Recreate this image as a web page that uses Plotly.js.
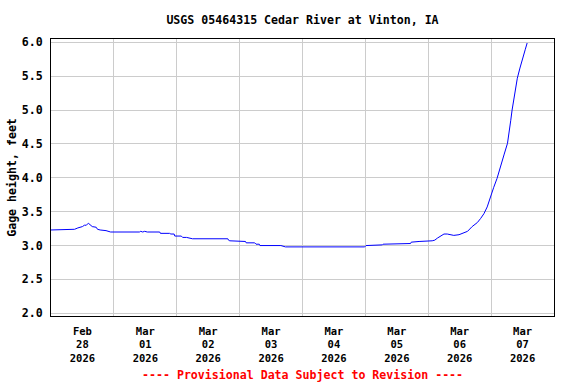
<!DOCTYPE html>
<html>
<head>
<meta charset="utf-8">
<script src="https://cdn.plot.ly/plotly-3.0.1.min.js"></script>
<style>html,body{margin:0;padding:0;background:#fff;}#chart{width:576px;height:384px;}</style>
</head>
<body>
<div id="chart"></div>
<script>
// Gage height readings (time, feet)
const times = [
  "2026-02-28 00:00","2026-02-28 06:30","2026-02-28 06:45","2026-02-28 09:00","2026-02-28 10:15",
  "2026-02-28 12:00","2026-02-28 12:45","2026-02-28 13:30","2026-02-28 14:15","2026-02-28 15:00",
  "2026-02-28 15:45","2026-02-28 17:15","2026-02-28 17:45","2026-02-28 18:45","2026-02-28 21:00",
  "2026-02-28 22:45","2026-03-01 05:15","2026-03-01 05:30","2026-03-01 05:45","2026-03-01 09:45",
  "2026-03-01 10:15","2026-03-01 11:00","2026-03-01 11:45","2026-03-01 12:45","2026-03-01 17:30",
  "2026-03-01 17:45","2026-03-01 21:15","2026-03-01 21:45","2026-03-01 23:00","2026-03-01 23:15",
  "2026-03-02 01:45","2026-03-02 02:15","2026-03-02 03:45","2026-03-02 06:00","2026-03-02 19:30",
  "2026-03-02 19:45","2026-03-02 20:15","2026-03-03 00:45","2026-03-03 01:00","2026-03-03 02:15",
  "2026-03-03 02:30","2026-03-03 05:45","2026-03-03 06:15","2026-03-03 07:30","2026-03-03 07:45",
  "2026-03-03 11:30","2026-03-03 12:30","2026-03-03 13:30","2026-03-03 14:45","2026-03-03 15:45",
  "2026-03-03 17:30","2026-03-04 01:00","2026-03-04 06:45","2026-03-04 07:30","2026-03-04 08:00",
  "2026-03-04 14:30","2026-03-04 14:45","2026-03-04 15:30","2026-03-04 17:30","2026-03-04 17:45",
  "2026-03-04 18:30","2026-03-04 19:30","2026-03-04 23:45","2026-03-05 00:15","2026-03-05 01:15",
  "2026-03-05 01:30","2026-03-05 06:30","2026-03-05 06:45","2026-03-05 10:45","2026-03-05 11:00",
  "2026-03-05 17:15","2026-03-05 17:30","2026-03-05 20:15","2026-03-05 20:30","2026-03-06 01:30",
  "2026-03-06 02:30","2026-03-06 03:30","2026-03-06 04:45","2026-03-06 06:00","2026-03-06 07:15",
  "2026-03-06 08:30","2026-03-06 09:45","2026-03-06 11:45","2026-03-06 13:00","2026-03-06 15:00",
  "2026-03-06 16:45","2026-03-06 18:45","2026-03-06 20:00","2026-03-06 21:15","2026-03-06 22:30",
  "2026-03-06 23:30","2026-03-07 01:00","2026-03-07 02:15","2026-03-07 03:30","2026-03-07 05:00",
  "2026-03-07 06:15","2026-03-07 06:45","2026-03-07 07:30","2026-03-07 08:00","2026-03-07 08:45",
  "2026-03-07 09:15","2026-03-07 10:00","2026-03-07 11:00","2026-03-07 12:00","2026-03-07 13:00",
  "2026-03-07 13:45"
];
const gageHeight = [
  3.23,3.23,3.24,3.24,3.26,
  3.28,3.30,3.30,3.33,3.30,
  3.28,3.27,3.24,3.23,3.22,
  3.20,3.20,3.19,3.20,3.20,
  3.21,3.20,3.21,3.20,3.20,
  3.18,3.18,3.17,3.17,3.14,
  3.14,3.12,3.12,3.10,3.10,
  3.08,3.07,3.07,3.06,3.06,
  3.04,3.04,3.02,3.02,3.00,
  3.00,2.99,3.00,2.99,3.00,
  2.98,2.98,2.98,2.97,2.98,
  2.98,2.97,2.98,2.97,2.98,
  2.97,2.98,2.98,3.00,3.00,
  3.01,3.01,3.02,3.02,3.03,
  3.03,3.05,3.05,3.06,3.07,
  3.08,3.11,3.14,3.17,3.17,
  3.16,3.15,3.16,3.18,3.21,
  3.28,3.34,3.40,3.47,3.57,
  3.70,3.86,3.99,4.17,4.35,
  4.51,4.68,4.85,5.00,5.17,
  5.32,5.47,5.62,5.74,5.89,
  5.99
];
// Axis ticks
const xTickVals = ["2026-02-28 12:00","2026-03-01 12:00","2026-03-02 12:00","2026-03-03 12:00",
                   "2026-03-04 12:00","2026-03-05 12:00","2026-03-06 12:00","2026-03-07 12:00"];
const xTickText = ["Feb<br>28<br>2026","Mar<br>01<br>2026","Mar<br>02<br>2026","Mar<br>03<br>2026",
                   "Mar<br>04<br>2026","Mar<br>05<br>2026","Mar<br>06<br>2026","Mar<br>07<br>2026"];
const yTickVals = [2.0,2.5,3.0,3.5,4.0,4.5,5.0,5.5,6.0];
const yTickText = ["2.0","2.5","3.0","3.5","4.0","4.5","5.0","5.5","6.0"];

const FONT = "DejaVu Sans Mono, Liberation Mono, monospace";
const fnt = {family: FONT, size: 11.6, color: "#000", weight: "bold"};
const xfnt = {family: FONT, size: 10.5, color: "#000", weight: "bold"};

const trace = {
  x: times, y: gageHeight, type: "scatter", mode: "lines",
  line: {color: "#0000FF", width: 1}, hoverinfo: "skip"
};

const layout = {
  width: 576, height: 384,
  margin: {l: 51, r: 22, t: 39, b: 68},
  paper_bgcolor: "#fff", plot_bgcolor: "#fff",
  showlegend: false,
  font: fnt,
  title: {text: "USGS 05464315 Cedar River at Vinton, IA", font: fnt,
          x: 0.5, xref: "paper", y: 1 - 19.5/384, yref: "container", yanchor: "middle"},
  xaxis: {
    type: "date",
    range: ["2026-02-28 00:00", "2026-03-08 00:00"],
    tickmode: "array", tickvals: xTickVals, ticktext: xTickText,
    showgrid: false, zeroline: false,
    ticks: "outside", ticklen: 5, tickcolor: "rgba(0,0,0,0)",
    tickfont: xfnt,
    minor: {tick0: "2026-02-28", dtick: 86400000, showgrid: true, gridcolor: "#CCCCCC", gridwidth: 1, ticks: ""},
    showline: true, linecolor: "#000", linewidth: 1, mirror: true
  },
  yaxis: {
    range: [1.960, 6.049],
    tickmode: "array", tickvals: yTickVals, ticktext: yTickText,
    showgrid: true, gridcolor: "#CCCCCC", gridwidth: 1, zeroline: false,
    ticks: "outside", ticklen: 5, tickcolor: "rgba(0,0,0,0)",
    tickfont: fnt,
    title: {text: "Gage height, feet", font: fnt, standoff: 2},
    showline: true, linecolor: "#000", linewidth: 1, mirror: true
  },
  annotations: [{
    text: "---- Provisional Data Subject to Revision ----",
    xref: "paper", yref: "paper", x: 0.5, y: -(375 - 316) / 277,
    xanchor: "center", yanchor: "middle", showarrow: false,
    font: {family: FONT, size: 11.6, color: "#FF0000", weight: "bold"}
  }]
};

Plotly.newPlot("chart", [trace], layout, {staticPlot: true, displayModeBar: false});
</script>
</body>
</html>
